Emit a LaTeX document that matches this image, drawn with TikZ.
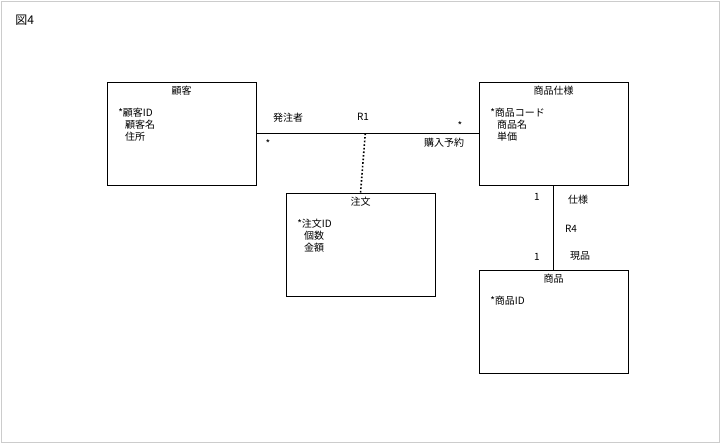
\documentclass[tikz,border=0pt]{standalone}
\usepackage{fontspec}
\setmainfont{Noto Sans CJK JP}
\usetikzlibrary{calc}
\usetikzlibrary{positioning}
\begin{document}
\begin{tikzpicture}[x=1pt,y=-1pt,semithick,font=\fontsize{10}{12}\selectfont]
 \tikzstyle{ent}=[draw, minimum width=149pt, minimum height=103pt, inner sep=0pt]
 \tikzstyle{lbl}=[inner sep=1pt]
 \useasboundingbox (0,0) rectangle (720,443);
 \draw[gray!40] (1,1) rectangle (719,442);
 \node[lbl, anchor=west] (fig) at (14,20) {\fontsize{12}{14}\selectfont 図4};
 % entities
 \node[ent] (kokyaku) at (181.5,133.5) {};
 \node[ent] (shiyou)  at (553.5,133.5) {};
 \node[ent] (chumon)  at (360.5,245) {};
 \node[ent] (shohin)  at (553.5,322) {};
 \node[lbl, below=3pt of kokyaku.north] (kt) {顧客};
 \node[lbl, anchor=north west, align=left] (ka) at (117,107) {*顧客ID\\\ \ \ 顧客名\\\ \ \ 住所};
 \node[lbl, below=3pt of shiyou.north] (st) {商品仕様};
 \node[lbl, anchor=north west, align=left] (sa) at (489,107) {*商品コード\\\ \ \ 商品名\\\ \ \ 単価};
 \node[lbl, below=3pt of chumon.north] (ct) {注文};
 \node[lbl, anchor=north west, align=left] (ca) at (296,218) {*注文ID\\\ \ \ 個数\\\ \ \ 金額};
 \node[lbl, below=3pt of shohin.north] (pt) {商品};
 \node[lbl, anchor=north west, align=left] (pa) at (489,295) {*商品ID};
 % relationships
 \coordinate (r1) at ($(kokyaku.east)!0.49!(shiyou.west)$);
 \draw (kokyaku.east) -- (shiyou.west);
 \draw[dotted, line width=1.6pt] (r1) -- (chumon.north);
 \draw (shiyou.south) -- (shohin.north);
 % labels
 \node[lbl] (hachu) at (288,118) {発注者};
 \node[lbl] (r1l)   at (363,117) {R1};
 \node[lbl] (m1)    at (268,144) {*};
 \node[lbl] (m2)    at (460,126) {*};
 \node[lbl] (konyu) at (444,143) {購入予約};
 \node[lbl] (o1)    at (537,197) {1};
 \node[lbl] (shi)   at (578,200) {仕様};
 \node[lbl] (r4l)   at (571,229) {R4};
 \node[lbl] (o2)    at (537,257) {1};
 \node[lbl] (gen)   at (580,256) {現品};
\end{tikzpicture}
\end{document}
